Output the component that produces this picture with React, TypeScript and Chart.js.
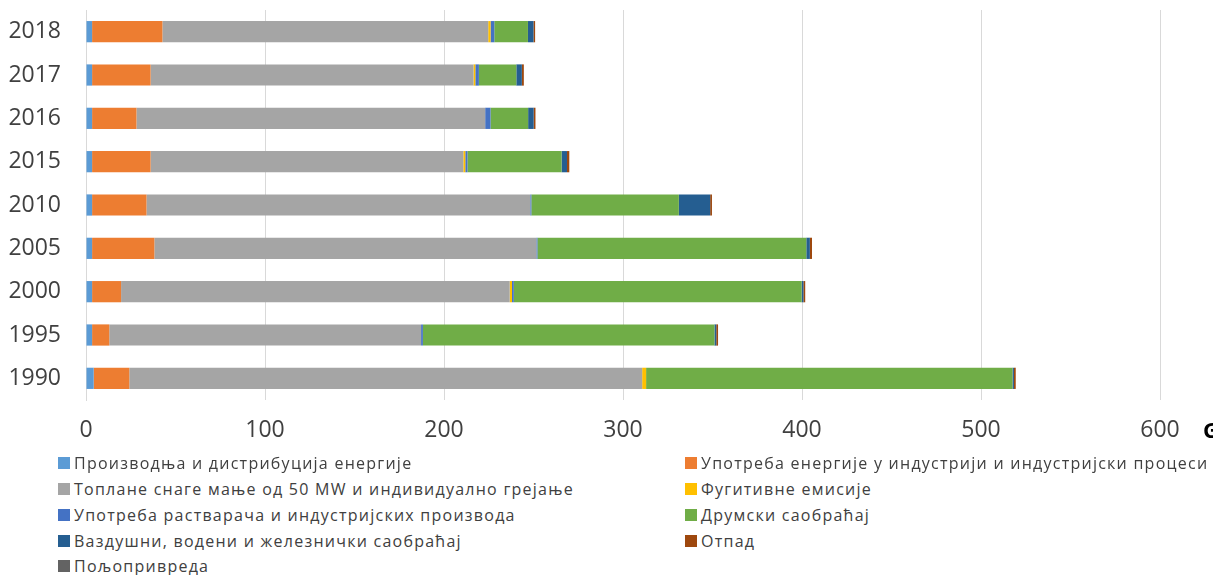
import React, { useEffect, useRef } from 'react';
import { Chart, registerables } from 'chart.js';

Chart.register(...registerables);

// ---- data ----
const years = ['2018', '2017', '2016', '2015', '2010', '2005', '2000', '1995', '1990'];

const energyProduction = [3.4, 3.4, 3.4, 3.4, 3.4, 3.4, 3.4, 3.4, 4.3];
const industryEnergy = [39.3, 32.7, 24.8, 32.7, 30.4, 34.8, 16.2, 9.6, 19.9];
const heatingPlants = [182.0, 180.4, 194.8, 174.7, 214.4, 213.4, 217.1, 174.2, 286.5];
const fugitive = [1.3, 1.0, 0, 1.1, 0, 0, 1.3, 0, 2.2];
const solvents = [2.1, 2.0, 3.0, 1.2, 0.6, 0.6, 1.0, 1.0, 0];
const roadTransport = [18.8, 20.9, 21.0, 52.6, 82.4, 150.2, 160.8, 162.9, 204.7];
const otherTransport = [3.1, 3.1, 3.1, 3.0, 17.5, 2.0, 1.0, 1.0, 0.8];
const waste = [0.9, 1.1, 1.0, 1.3, 1.0, 1.2, 1.0, 1.0, 1.0];
const agriculture = [0, 0, 0, 0, 0, 0, 0, 0, 0];

const seriesNames = [
  'Производња и дистрибуција енергије',
  'Употреба енергије у индустрији и индустријски процеси',
  'Топлане снаге мање од 50 MW и индивидуално грејање',
  'Фугитивне емисије',
  'Употреба растварача и индустријских производа',
  'Друмски саобраћај',
  'Ваздушни, водени и железнички саобраћај',
  'Отпад',
  'Пољопривреда',
];
const seriesValues = [
  energyProduction, industryEnergy, heatingPlants, fugitive, solvents,
  roadTransport, otherTransport, waste, agriculture,
];
const seriesColors = [
  '#5B9BD5', '#ED7D31', '#A5A5A5', '#FFC000', '#4472C4',
  '#70AD47', '#255E91', '#9E480E', '#636363',
];

const xTicks = [0, 100, 200, 300, 400, 500, 600];

const FONT = '"Open Sans", "Noto Sans", sans-serif';

export default function App() {
  const ref = useRef<HTMLCanvasElement>(null);

  useEffect(() => {
    const chart = new Chart(ref.current!, {
      type: 'bar',
      data: {
        labels: years,
        datasets: seriesNames.map((name, i) => ({
          label: name,
          data: seriesValues[i],
          backgroundColor: seriesColors[i],
          borderWidth: 0,
          barPercentage: 0.49,
          categoryPercentage: 1,
        })),
      },
      options: {
        indexAxis: 'y',
        animation: false,
        responsive: true,
        maintainAspectRatio: false,
        layout: { padding: { top: 10, right: 53, left: 0, bottom: 0 } },
        plugins: { legend: { display: false }, tooltip: { enabled: false } },
        scales: {
          x: {
            stacked: true,
            min: xTicks[0],
            max: xTicks[xTicks.length - 1],
            afterBuildTicks: (scale: any) => {
              scale.ticks = xTicks.map((v) => ({ value: v }));
            },
            afterFit: (scale: any) => {
              scale.height = 55;
            },
            grid: { color: '#D9D9D9', lineWidth: 1, drawTicks: false },
            border: { display: false },
            ticks: {
              padding: 17,
              color: '#404040',
              font: { family: FONT, size: 23 },
            },
          },
          y: {
            stacked: true,
            afterFit: (scale: any) => {
              scale.width = 86;
              scale.paddingTop = 0;
              scale.paddingBottom = 0;
            },
            grid: { display: false, drawTicks: false },
            border: { display: true, color: '#D9D9D9', width: 1 },
            ticks: {
              padding: 25,
              color: '#404040',
              font: { family: FONT, size: 23 },
            },
          },
        },
      },
    });
    return () => chart.destroy();
  }, []);

  const rowCenters = [463, 489, 515, 541, 566];
  const colLeft = [58, 685];

  return (
    <div
      style={{
        position: 'fixed',
        left: 0,
        top: 0,
        width: 1213,
        height: 575,
        overflow: 'hidden',
        background: '#fff',
      }}
    >
      <div style={{ position: 'absolute', left: 0, top: 0, width: 1213, height: 455 }}>
        <canvas ref={ref} />
      </div>
      {seriesNames.map((name, i) => {
        const row = Math.floor(i / 2);
        const col = i % 2;
        return (
          <div
            key={name}
            style={{
              position: 'absolute',
              left: colLeft[col],
              top: rowCenters[row] - 13,
              height: 26,
              display: 'flex',
              alignItems: 'center',
              whiteSpace: 'nowrap',
              fontFamily: FONT,
              fontSize: 16,
              letterSpacing: 1.25,
              color: '#404040',
            }}
          >
            <span
              style={{
                display: 'inline-block',
                width: 12,
                height: 12,
                background: seriesColors[i],
                marginRight: 4,
              }}
            />
            <span>{name}</span>
          </div>
        );
      })}
      <div
        style={{
          position: 'absolute',
          left: 1203,
          top: 414,
          fontFamily: FONT,
          fontWeight: 700,
          fontSize: 22,
          color: '#000',
          whiteSpace: 'nowrap',
        }}
      >
        Gg
      </div>
    </div>
  );
}
